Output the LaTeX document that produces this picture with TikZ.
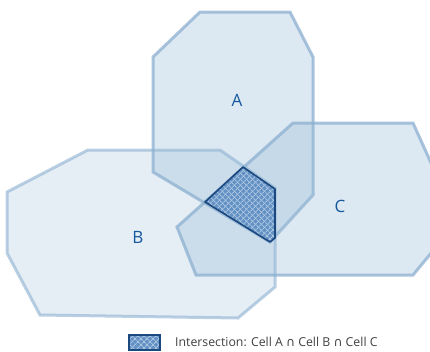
\documentclass[tikz,border=0pt]{standalone}
\usepackage{fontspec}
\setmainfont{Open Sans}
\newfontfamily\symfont{DejaVu Sans}
\usetikzlibrary{patterns.meta}

\definecolor{cellfill}{RGB}{150,185,215}
\definecolor{celledge}{RGB}{140,176,208}
\definecolor{cutfill}{RGB}{100,145,196}
\definecolor{cutline}{RGB}{170,198,226}
\definecolor{cutedge}{RGB}{28,72,128}
\definecolor{labelblue}{RGB}{22,88,158}

\tikzset{
    cell/.style={fill=cellfill, fill opacity=0.33, draw=celledge, draw opacity=0.75, line width=3pt, line join=miter},
    cut/.style={draw=cutedge, line width=1.6pt, line join=round},
    hatchNE/.style={pattern={Lines[angle=45, distance=4pt, line width=0.9pt]}, pattern color=cutline},
    hatchNW/.style={pattern={Lines[angle=-45, distance=4pt, line width=0.9pt]}, pattern color=cutline},
    celllabel/.style={text=labelblue, font=\fontsize{17}{17}\selectfont},
}

\begin{document}
\begin{tikzpicture}[x=1pt, y=-1pt]
\useasboundingbox (0,0) rectangle (430,351);

% Cell vertices
\def\cellA{(200,12)--(290,12)--(313,57)--(313,195)--(270,242)--(153,172)--(153,57)--cycle}
\def\cellB{(88,150)--(220,150)--(275,188)--(275,287)--(238,318)--(40,315)--(7,253)--(7,192)--cycle}
\def\cellC{(293,123)--(413,123)--(432,165)--(432,252)--(413,275)--(196,275)--(177,227)--cycle}
\def\cellABC{(243,167)--(275,189)--(275,238)--(270,242)--(205,202)--cycle}

% Cells B, A, C
\draw[cell, fill opacity=0.25, draw opacity=0.6] \cellB;
\draw[cell] \cellA;
\draw[cell] \cellC;

% Intersection of the three cells
\fill[cutfill] \cellABC;
\fill[hatchNE] \cellABC;
\fill[hatchNW] \cellABC;
\draw[cut] \cellABC;

\node[celllabel] (labA) at (237,100) {A};
\node[celllabel] (labB) at (138,237) {B};
\node[celllabel] (labC) at (340,206) {C};

% Legend
\fill[cutfill] (129,335) rectangle (160,350);
\fill[hatchNE] (129,335) rectangle (160,350);
\fill[hatchNW] (129,335) rectangle (160,350);
\draw[cutedge, line width=1.2pt] (129,335) rectangle (160,350);
\node[anchor=west, text=black!75, font=\fontsize{12.3}{13}\selectfont, inner sep=0pt] (legend) at (175,342)
    {Intersection: Cell A {\symfont ∩} Cell B {\symfont ∩} Cell C};

\end{tikzpicture}
\end{document}
